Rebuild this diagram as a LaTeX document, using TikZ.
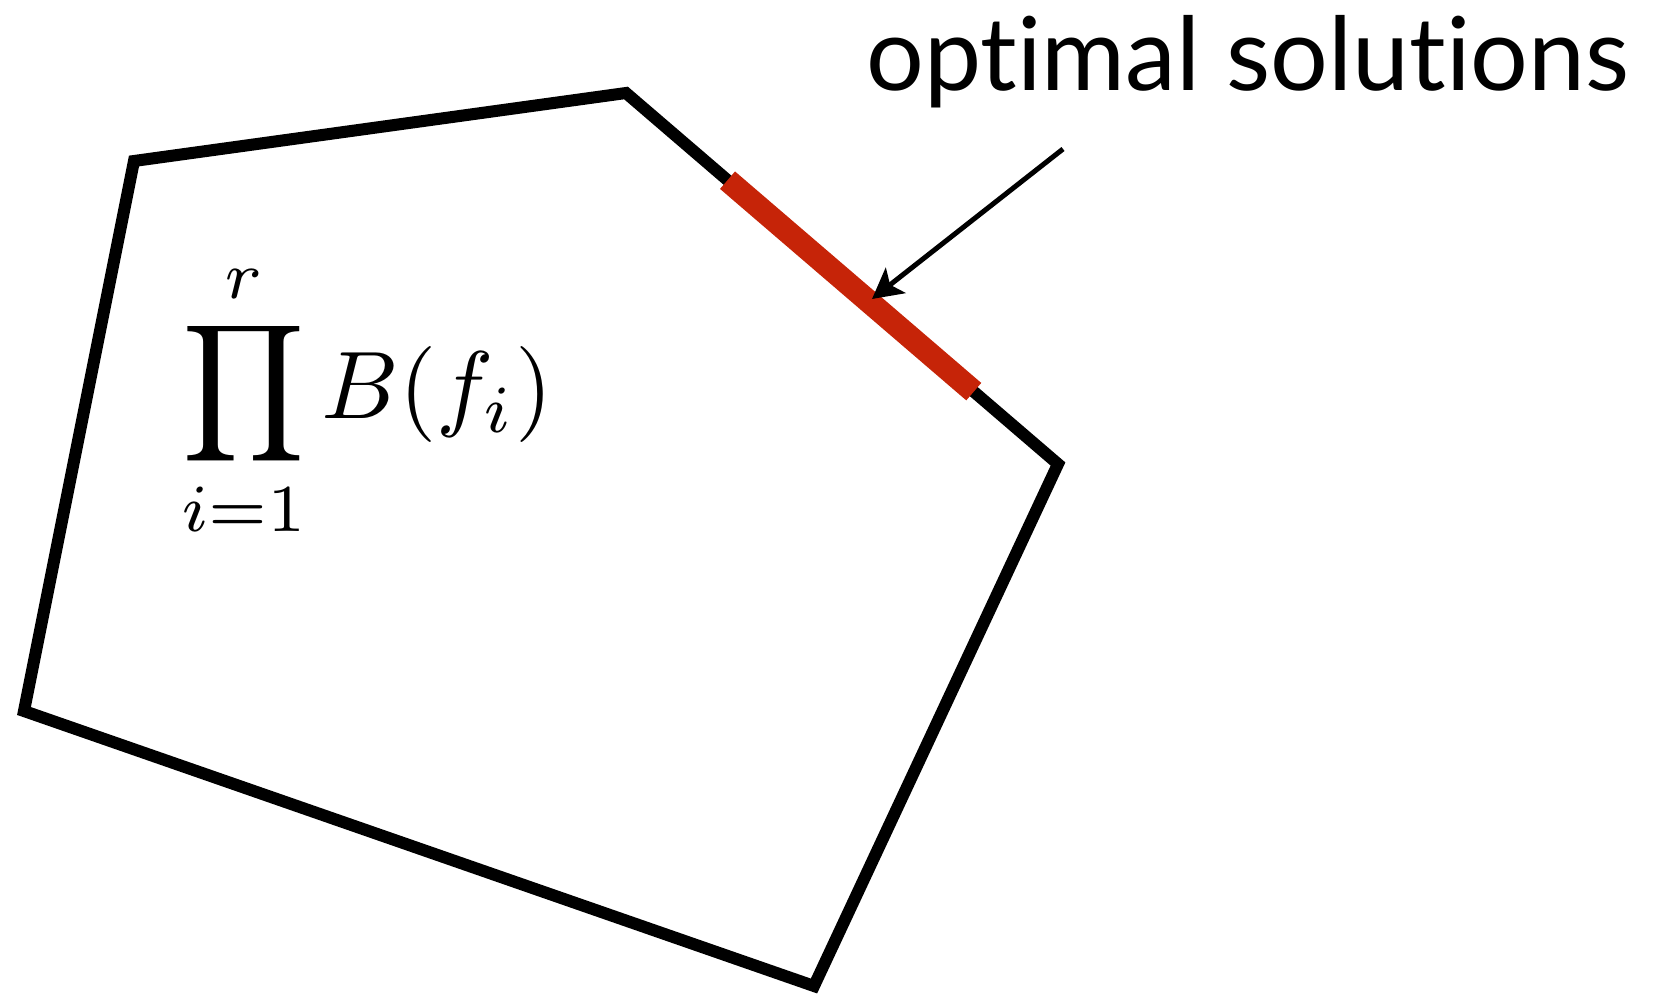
\documentclass[tikz,border=0pt]{standalone}
\usepackage{graphicx}
\usepackage{fontspec}
\setmainfont[Ligatures=NoCommon]{Lato}
\usetikzlibrary{arrows.meta,calc}
\definecolor{optred}{RGB}{198,36,8}
\tikzset{
  poly/.style={line width=12pt, line join=miter, miter limit=10},
  optseg/.style={line width=23pt, color=optred, line cap=butt},
  pointer/.style={line width=5pt, -{Stealth[length=30pt,width=32pt,inset=7pt]}},
  label/.style={inner sep=0pt, anchor=base west}
}
\begin{document}
\begin{tikzpicture}[x=1pt,y=-1pt]
\useasboundingbox (0,0) rectangle (1657,998);
\coordinate (A) at (134,161);
\coordinate (B) at (626,93);
\coordinate (C) at (1058,464);
\coordinate (D) at (814,986);
\coordinate (E) at (24,711);
\draw[poly] (A) -- (B) -- (C) -- (D) -- (E) -- cycle;
\coordinate (R1) at ($(B)!0.235!(C)$);
\coordinate (R2) at ($(B)!0.805!(C)$);
\draw[optseg] (R1) -- (R2);
\node[label, font=\fontsize{102}{110}\selectfont] (opt) at (866,90) {optimal solutions};
\coordinate (tail) at (1063,149);
\coordinate (tip) at (872,299);
\draw[pointer] (tail) -- (tip);
\node[label] (prod) at (181,418) {\scalebox{9.6}{$\displaystyle\prod_{i=1}^{r} B(f_i)$}};
\end{tikzpicture}
\end{document}
